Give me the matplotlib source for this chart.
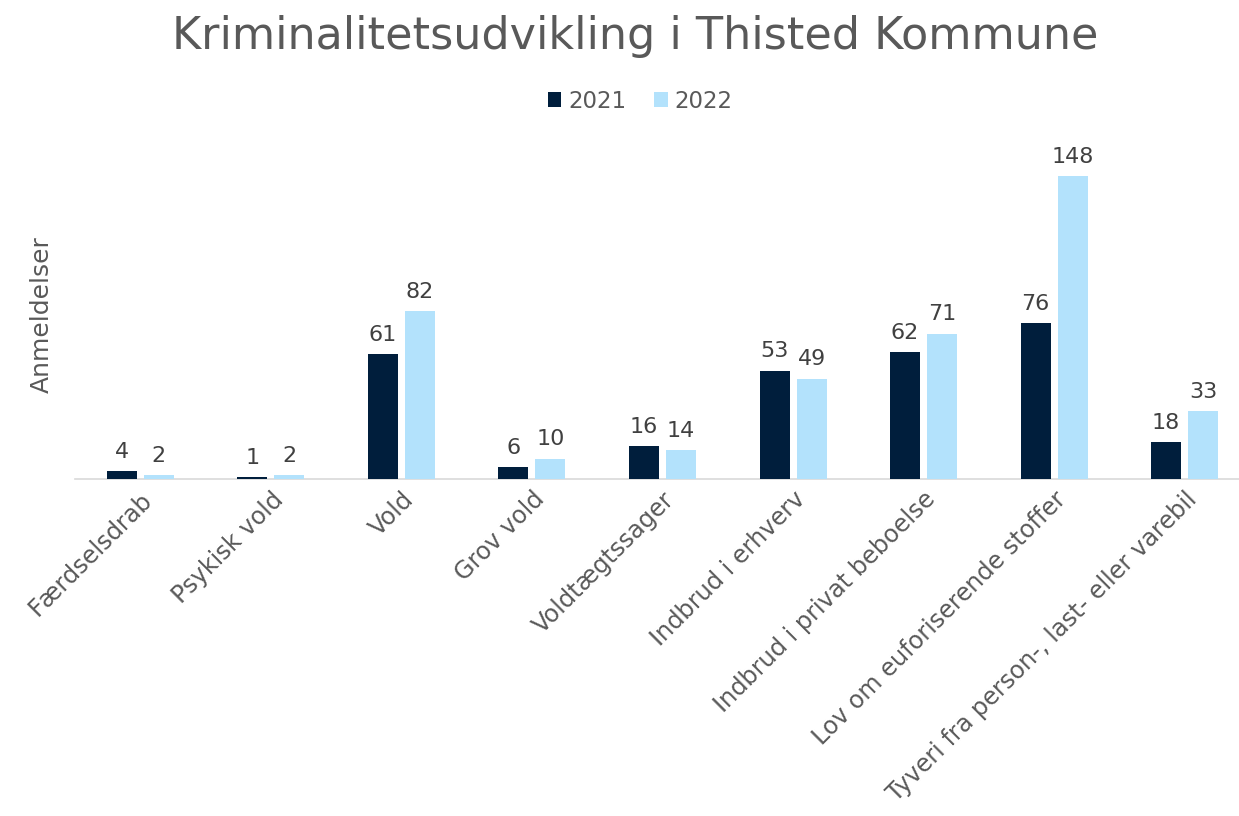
import matplotlib
matplotlib.use("Agg")
import matplotlib.pyplot as plt
import numpy as np

categories = ["Færdselsdrab", "Psykisk vold", "Vold", "Grov vold", "Voldtægtssager",
              "Indbrud i erhverv", "Indbrud i privat beboelse", "Lov om euforiserende stoffer",
              "Tyveri fra person-, last- eller varebil"]
v2021 = [4, 1, 61, 6, 16, 53, 62, 76, 18]
v2022 = [2, 2, 82, 10, 14, 49, 71, 148, 33]
series_names = ["2021", "2022"]

plt.rcParams['font.family'] = ['DejaVu Sans']

W, H = 1239, 816
fig = plt.figure(figsize=(W/100, H/100), dpi=100)
left = 75 / W
width = 1175 / W
bottom = (H - 479) / H
top_px = 479 - 170 * 2.047
height = (479 - top_px) / H
ax = fig.add_axes([left, bottom, width, height])

c1, c2 = "#001e3c", "#b3e2fc"
x = np.arange(len(categories))
bw = 0.23
off = 0.142
b1 = ax.bar(x - off, v2021, bw, color=c1, label=series_names[0], zorder=3)
b2 = ax.bar(x + off, v2022, bw, color=c2, label=series_names[1], zorder=3)
for bars, vals in ((b1, v2021), (b2, v2022)):
    for b, v in zip(bars, vals):
        ax.text(b.get_x() + b.get_width()/2, v + 4.5, str(v), ha='center', va='bottom',
                fontsize=16, color='#404040')

ax.set_xlim(-0.5, len(categories) - 0.5)
ax.set_ylim(0, 170)
for s in ['top', 'right', 'left']:
    ax.spines[s].set_visible(False)
ax.spines['bottom'].set_color('#d9d9d9')
ax.spines['bottom'].set_linewidth(1.2)
ax.set_yticks([])
ax.set_xticks(x)
ax.set_xticklabels(categories, rotation=45, ha='right', rotation_mode='anchor',
                   fontsize=17.3, color='#595959')
ax.tick_params(axis='x', length=0, pad=6)

fig.text(42 / W, 1 - 315 / H, "Anmeldelser", rotation=90, ha='center', va='center',
         fontsize=18, color='#595959')
fig.text(635 / W, 1 - 36 / H, "Kriminalitetsudvikling i Thisted Kommune", ha='center',
         va='center', fontsize=32, color='#595959')
leg = fig.legend(handles=[b1, b2], labels=series_names, loc='center',
                 bbox_to_anchor=(640 / W, 1 - 101 / H), ncol=2, frameon=False,
                 fontsize=16.5, handlelength=0.6, handleheight=0.6, handletextpad=0.3,
                 columnspacing=1.2)
for t in leg.get_texts():
    t.set_color('#595959')

fig.savefig("out.png", dpi=100)
